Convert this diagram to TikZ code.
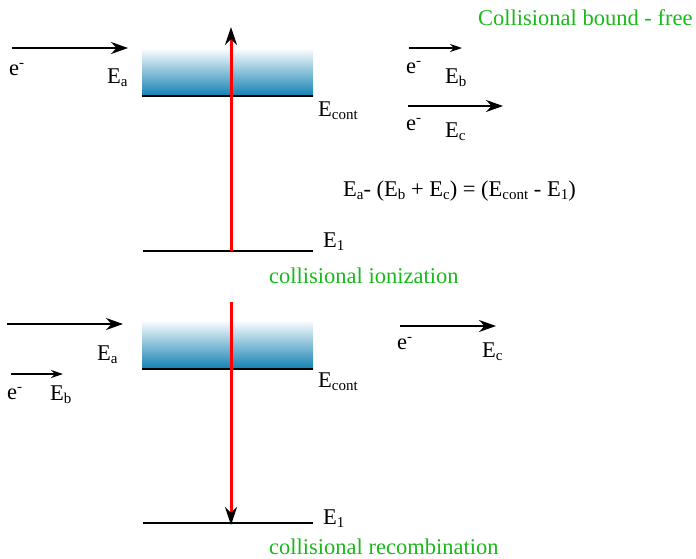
\documentclass[tikz,border=0pt]{standalone}
\usepackage{fontspec}
\setmainfont{Liberation Serif}
\usetikzlibrary{arrows.meta}
\definecolor{bandblau}{RGB}{18,128,178}
\definecolor{gruen}{RGB}{25,185,25}
\newcommand\tief[1]{\raisebox{-0.35ex}{\fontsize{15}{15}\selectfont #1}}
\newcommand\hoch[1]{\raisebox{0.75ex}{\fontsize{15}{15}\selectfont #1}}

\begin{document}
\begin{tikzpicture}[x=1pt, y=1pt,
      font=\fontsize{22.5}{26}\selectfont,
      beschr/.style={anchor=base west, inner sep=0pt},
      titel/.style={beschr, text=gruen},
      pfeil/.style={-{Stealth[length=17pt, width=12pt]}, line width=1.8pt},
      kpfeil/.style={-{Stealth[length=12pt, width=8pt]}, line width=1.3pt},
      niveau/.style={line width=2.6pt},
      uebergang/.style={draw=red, line width=3pt, -{Stealth[length=18pt, width=12pt, color=black]}}
    ]
      \useasboundingbox (0,0) rectangle (696,-558);

      % Ionisation
      \node[titel] (kopf) at (478,-25) {Collisional bound - free};
      \coordinate (a1s) at (12,-48);
      \coordinate (a1e) at (128,-48);
      \draw[pfeil] (a1s) -- (a1e);
      \node[beschr] (el1) at (9,-75) {e\hoch{-}};
      \node[beschr] (ea1) at (107,-83) {E\tief{a}};

      \shade[top color=white, bottom color=bandblau] (142,-48) rectangle (313,-96);
      \draw[niveau] (142,-96) -- (313,-96);
      \node[beschr] (ec1) at (318,-116) {E\tief{cont}};
      \draw[niveau] (143,-251) -- (313,-251);
      \node[beschr] (eg1) at (323,-247) {E\tief{1}};
      \coordinate (ion1) at (231,-251);
      \coordinate (ion2) at (231,-27);
      \draw[uebergang] (ion1) -- (ion2);
      \node[titel] (ion) at (269,-283) {collisional ionization};

      \coordinate (b1s) at (409,-48);
      \coordinate (b1e) at (462,-48);
      \draw[kpfeil] (b1s) -- (b1e);
      \node[beschr] (el2) at (406,-73) {e\hoch{-}};
      \node[beschr] (eb1) at (445,-83) {E\tief{b}};
      \coordinate (c1s) at (408,-106);
      \coordinate (c1e) at (503,-106);
      \draw[pfeil, line width=1.5pt] (c1s) -- (c1e);
      \node[beschr] (el3) at (406,-130) {e\hoch{-}};
      \node[beschr] (ecc1) at (445,-137) {E\tief{c}};
      \node[beschr] (bilanz) at (343,-196) {E\tief{a}- (E\tief{b} + E\tief{c}) = (E\tief{cont} - E\tief{1})};

      % Rekombination
      \coordinate (a2s) at (7,-324);
      \coordinate (a2e) at (123,-324);
      \draw[pfeil] (a2s) -- (a2e);
      \node[beschr] (ea2) at (97,-360) {E\tief{a}};
      \coordinate (b2s) at (11,-374);
      \coordinate (b2e) at (63,-374);
      \draw[kpfeil] (b2s) -- (b2e);
      \node[beschr] (el4) at (7,-399) {e\hoch{-}};
      \node[beschr] (eb2) at (50,-400) {E\tief{b}};

      \shade[top color=white, bottom color=bandblau] (142,-320) rectangle (313,-369);
      \draw[niveau] (142,-369) -- (313,-369);
      \node[beschr] (ec2) at (318,-387) {E\tief{cont}};
      \draw[niveau] (143,-523) -- (313,-523);
      \node[beschr] (eg2) at (323,-524) {E\tief{1}};
      \coordinate (rek1) at (231,-302);
      \coordinate (rek2) at (231,-525);
      \draw[uebergang] (rek1) -- (rek2);
      \node[titel] (rek) at (269,-554) {collisional recombination};

      \coordinate (c2s) at (400,-326);
      \coordinate (c2e) at (496,-326);
      \draw[pfeil, line width=1.5pt] (c2s) -- (c2e);
      \node[beschr] (el5) at (397,-349) {e\hoch{-}};
      \node[beschr] (ecc2) at (482,-357) {E\tief{c}};
    \end{tikzpicture}
\end{document}
